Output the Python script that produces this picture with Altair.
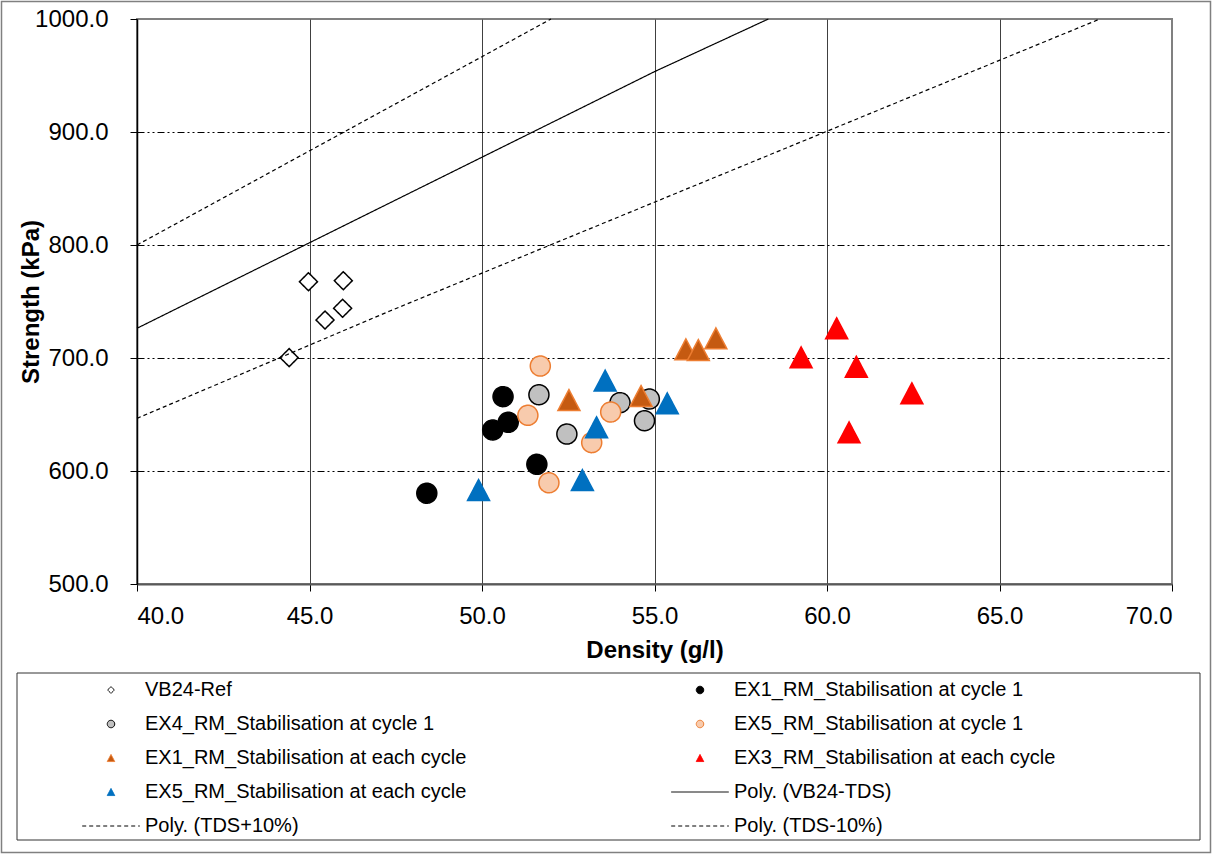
import altair as alt
import pandas as pd

# ---------------- data ----------------
series_names = [
    "VB24-Ref",
    "EX1_RM_Stabilisation at cycle 1",
    "EX4_RM_Stabilisation at cycle 1",
    "EX5_RM_Stabilisation at cycle 1",
    "EX1_RM_Stabilisation at each cycle",
    "EX3_RM_Stabilisation at each cycle",
    "EX5_RM_Stabilisation at each cycle",
    "Poly. (VB24-TDS)",
    "Poly. (TDS+10%)",
    "Poly. (TDS-10%)",
]
# legend is filled column by column: left column first, then right column
legend_order = [0, 2, 4, 6, 8, 1, 3, 5, 7, 9]

vb24_ref_density = [44.97, 45.98, 45.45, 45.96, 44.41]
vb24_ref_strength = [767.5, 768.4, 733.6, 744.0, 700.3]
ex1_c1_density = [48.40, 50.31, 50.76, 50.61, 51.59]
ex1_c1_strength = [580.3, 636.3, 643.1, 665.8, 605.9]
ex4_c1_density = [51.65, 52.46, 54.00, 54.85, 54.71]
ex4_c1_strength = [667.5, 632.7, 660.5, 663.7, 644.5]
ex5_c1_density = [51.69, 51.33, 53.73, 53.18, 51.94]
ex5_c1_strength = [692.9, 649.3, 652.2, 625.1, 589.6]
ex1_each_density = [52.52, 54.61, 55.91, 56.27, 56.78]
ex1_each_strength = [662.8, 666.4, 707.7, 707.1, 717.4]
ex3_each_density = [60.28, 59.25, 60.85, 62.46, 60.64]
ex3_each_strength = [726.3, 700.6, 692.3, 668.8, 634.2]
ex5_each_density = [53.57, 55.37, 53.32, 52.91, 49.90]
ex5_each_strength = [680.0, 659.9, 638.7, 592.0, 583.2]

tds_density = [40.0, 55.0, 58.3]
tds_strength = [726.3, 953.4, 1000.0]
tds_plus_density = [40.0, 52.0]
tds_plus_strength = [800.0, 1000.0]
tds_minus_density = [40.0, 47.33, 67.91]
tds_minus_strength = [646.6, 741.6, 1000.0]

x_ticks = [40, 45, 50, 55, 60, 65, 70]
y_ticks = [500, 600, 700, 800, 900, 1000]

# ---------------- styles ----------------
E = 7.7  # common horizontal extent so legend entries align
diamond = f"M-{E},0M{E},0M0,-0.9L0.9,0L0,0.9L-0.9,0Z"
circle = f"M-{E},0M{E},0M1,0A1,1,0,1,1,-1,0A1,1,0,1,1,1,0Z"
triangle = f"M-{E},0M{E},0M0,-0.95L1,0.95L-1,0.95Z"
stroke_line = f"M-{E},0L{E},0"

shape_range = [diamond, circle, circle, circle, triangle, triangle, triangle,
               stroke_line, stroke_line, stroke_line]
fill_range = ["#FFFFFF", "#000000", "#C0C0C0", "#F8CBAD", "#C55A11", "#FF0000",
              "#0070C0", "transparent", "transparent", "transparent"]
stroke_range = ["#000000", "#000000", "#000000", "#ED7D31", "#ED7D31", "#FF0000",
                "#0070C0", "#000000", "#000000", "#000000"]
dash_range = [[1, 0]] * 8 + [[4, 3], [4, 3]]


def frame(names, xs, ys):
    rows = []
    for n, xv, yv in zip(names, xs, ys):
        for a, b in zip(xv, yv):
            rows.append({"series": n, "density": a, "strength": b})
    return pd.DataFrame(rows)


circ_df = frame(series_names[0:4],
                [vb24_ref_density, ex1_c1_density, ex4_c1_density, ex5_c1_density],
                [vb24_ref_strength, ex1_c1_strength, ex4_c1_strength, ex5_c1_strength])
tri_df = frame(series_names[4:7],
               [ex1_each_density, ex3_each_density, ex5_each_density],
               [ex1_each_strength, ex3_each_strength, ex5_each_strength])
line_df = frame(series_names[7:10],
                [tds_density, tds_plus_density, tds_minus_density],
                [tds_strength, tds_plus_strength, tds_minus_strength])

FONT = "Liberation Sans"

legend = alt.Legend(
    orient="none", legendX=-36, legendY=661, columns=2, columnPadding=202,
    rowPadding=14, labelFontSize=20, labelFont=FONT, labelColor="black",
    symbolSize=56, symbolStrokeWidth=1, labelOffset=24, padding=0, labelLimit=600,
)

x_enc = alt.X(
    "density:Q",
    scale=alt.Scale(domain=[40, 70], nice=False, zero=False),
    axis=alt.Axis(
        values=x_ticks, format=".1f", title="Density (g/l)",
        titleY=73.5, titleBaseline="alphabetic",
        gridColor={"condition": {"test": "datum.value == 40 || datum.value == 70",
                                 "value": "transparent"}, "value": "#404040"},
        gridWidth=1, domainColor="#595959", domainWidth=2,
        labelPadding=13,
    ),
)
y_enc = alt.Y(
    "strength:Q",
    scale=alt.Scale(domain=[500, 1000], nice=False, zero=False),
    axis=alt.Axis(
        values=y_ticks, format=".1f", title="Strength (kPa)",
        titleX=-99, titleY=282.5, titleBaseline="alphabetic", titleAngle=270,
        gridColor={"condition": {"test": "datum.value == 500 || datum.value == 1000",
                                 "value": "transparent"}, "value": "#000000"},
        gridDash=[7, 3, 2, 3, 2, 3], gridWidth=1, domainColor="#000000",
        domainWidth=1.5, labelPadding=22,
    ),
)

legend_domain = [series_names[i] for i in legend_order]


def sc(rng):
    return alt.Scale(domain=legend_domain, range=[rng[i] for i in legend_order])


def point_layer(df, size):
    return alt.Chart(df).mark_point(
        filled=True, size=size, opacity=1, strokeWidth=1.5
    ).encode(
        x=x_enc, y=y_enc,
        fill=alt.Fill("series:N", scale=sc(fill_range), legend=legend, title=None, sort=legend_domain),
        stroke=alt.Stroke("series:N", scale=sc(stroke_range), legend=legend, title=None, sort=legend_domain),
        shape=alt.Shape("series:N", scale=sc(shape_range), legend=legend, title=None, sort=legend_domain),
        strokeDash=alt.StrokeDash("series:N", scale=sc(dash_range), legend=legend, title=None, sort=legend_domain),
    )


circles = point_layer(circ_df, 400)
triangles = point_layer(tri_df, 484)

lines = alt.Chart(line_df).mark_line(strokeWidth=1.2).encode(
    x=x_enc, y=y_enc,
    stroke=alt.Stroke("series:N", scale=sc(stroke_range), legend=None),
    strokeDash=alt.StrokeDash("series:N", scale=sc(dash_range), legend=None),
)

deco = pd.DataFrame({"k": [0]})
outer_frame = alt.Chart(deco).mark_rect(fill="transparent", stroke="#808080", strokeWidth=1.5).encode(
    x=alt.value(-135.5), x2=alt.value(1073.5), y=alt.value(-17.5), y2=alt.value(833.5)
)
legend_box = alt.Chart(deco).mark_rect(fill="transparent", stroke="#333333", strokeWidth=1).encode(
    x=alt.value(-120), x2=alt.value(1063), y=alt.value(654), y2=alt.value(821)
)

chart = alt.layer(outer_frame, legend_box, circles, triangles, lines).properties(
    width=1035, height=565,
    padding={"left": 137, "top": 19, "right": 40, "bottom": 270},
    autosize=alt.AutoSizeParams(type="none"),
    background="white",
).configure_view(
    stroke="#808080", strokeWidth=2
).configure_axis(
    labelFont=FONT, labelFontSize=24, labelColor="black",
    titleFont=FONT, titleFontSize=24, titleFontWeight="bold", titleColor="black",
    tickColor="black", tickSize=7, tickWidth=1,
)

chart.save("out.html", embed_options={"renderer": "svg", "actions": False})
